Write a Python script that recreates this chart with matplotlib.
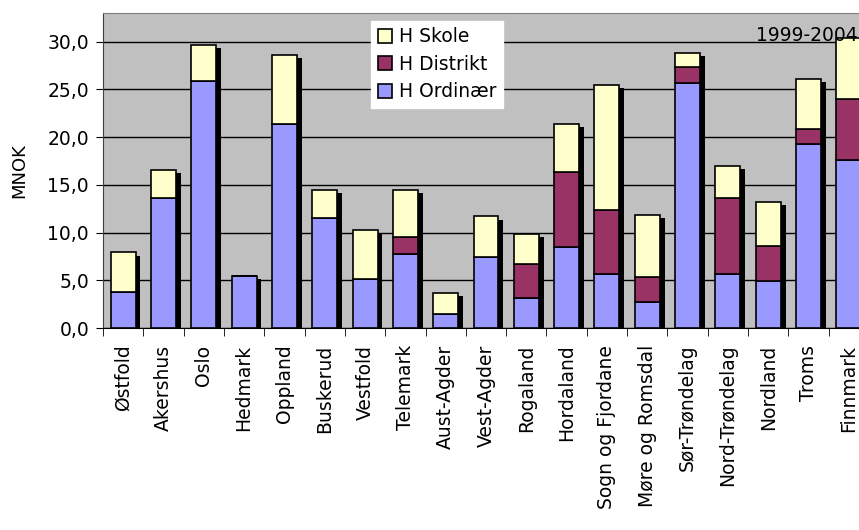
import numpy as np
import matplotlib.pyplot as plt

fylker = ['Østfold', 'Akershus', 'Oslo', 'Hedmark', 'Oppland', 'Buskerud', 'Vestfold',
          'Telemark', 'Aust-Agder', 'Vest-Agder', 'Rogaland', 'Hordaland',
          'Sogn og Fjordane', 'Møre og Romsdal', 'Sør-Trøndelag', 'Nord-Trøndelag',
          'Nordland', 'Troms', 'Finnmark']
ordinaer = [3.8, 13.6, 25.9, 5.45, 21.4, 11.5, 5.1, 7.8, 1.43, 7.4, 3.1, 8.46,
            5.7, 2.7, 25.7, 5.7, 4.9, 19.3, 17.55]
distrikt = [0.0, 0.0, 0.0, 0.0, 0.0, 0.0, 0.0, 1.75, 0.0, 0.0, 3.6, 7.84,
            6.7, 2.6, 1.6, 7.9, 3.7, 1.5, 6.45]
skole = [4.14, 3.0, 3.75, 0.0, 7.2, 3.0, 5.2, 4.95, 2.24, 4.3, 3.2, 5.1,
         13.1, 6.55, 1.5, 3.4, 4.65, 5.3, 6.35]

x = np.arange(len(fylker))
ord_ = np.array(ordinaer)
dis = np.array(distrikt)
sko = np.array(skole)
total = ord_ + dis + sko

plt.rcParams['font.family'] = 'DejaVu Sans'
fs = 13.5
fig = plt.figure(figsize=(8.59, 5.30), dpi=100)
ax = fig.add_axes([103 / 859, 1 - 328 / 530, 766 / 859, 315 / 530])
ax.set_facecolor('#C0C0C0')

w = 0.62
# skygge bak stolpene
ax.bar(x + 0.12, total - 0.35, w, color='black', zorder=2)
ax.bar(x, ord_, w, color='#9999FF', edgecolor='black', linewidth=1.2,
       label='H Ordinær', zorder=3)
ax.bar(x, dis, w, bottom=ord_, color='#993366', edgecolor='black', linewidth=1.2,
       label='H Distrikt', zorder=3)
ax.bar(x, sko, w, bottom=ord_ + dis, color='#FFFFCC', edgecolor='black', linewidth=1.2,
       label='H Skole', zorder=3)

ax.set_xlim(-0.5, len(fylker) - 0.5)
ax.set_ylim(0, 33)
ax.set_yticks(np.arange(0, 31, 5))
ax.set_yticklabels([f'{v:.1f}'.replace('.', ',') for v in np.arange(0, 31, 5)], fontsize=fs)
ax.yaxis.grid(True, color='black', linewidth=1)
ax.set_axisbelow(True)

ax.set_xticks(x)
ax.set_xticklabels(fylker, rotation=90, fontsize=fs)
ax.tick_params(axis='x', length=0, pad=12)
ax.set_xticks(np.arange(-0.5, len(fylker), 1), minor=True)
ax.tick_params(axis='x', which='minor', length=6, color='black')
ax.tick_params(axis='y', length=5, pad=5)

for s in ['top', 'right']:
    ax.spines[s].set_color('#808080')
ax.spines['left'].set_color('#404040')
ax.spines['bottom'].set_color('black')

ax.set_ylabel('MNOK', fontsize=fs - 0.5, labelpad=14)
ax.text(0.985, 0.93, '1999-2004', transform=ax.transAxes, ha='right', va='center',
        fontsize=fs)

h, l = ax.get_legend_handles_labels()
leg = ax.legend(h[::-1], l[::-1], loc='upper left', bbox_to_anchor=(0.35, 0.975),
                fontsize=fs, frameon=True, fancybox=False, framealpha=1,
                handlelength=0.75, handleheight=0.75, handletextpad=0.4,
                borderpad=0.35, labelspacing=0.45, borderaxespad=0)
leg.get_frame().set_edgecolor('white')

fig.savefig('out.png', dpi=100)
